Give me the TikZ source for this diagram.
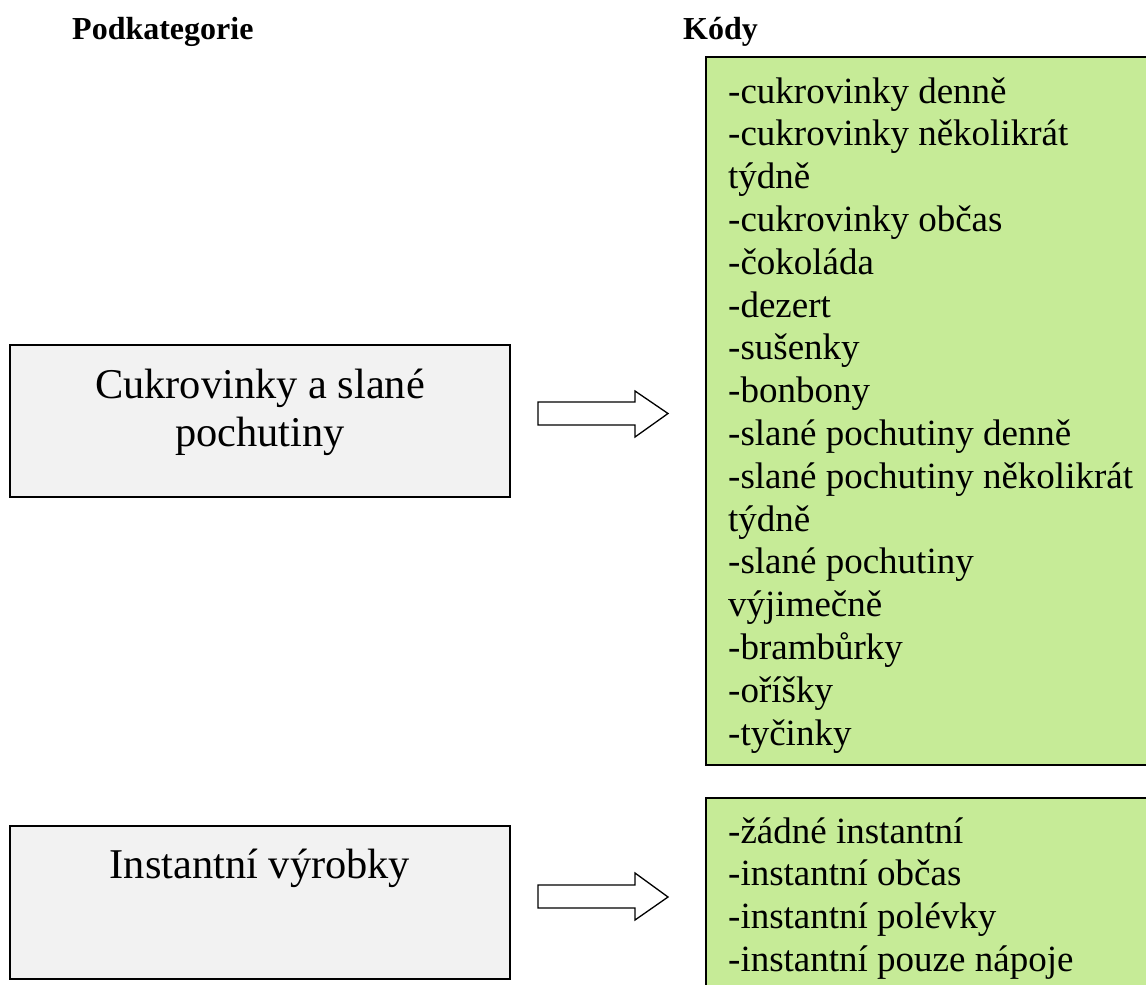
\documentclass[tikz,border=0pt]{standalone}
\usepackage{fontspec}
\setmainfont{Liberation Serif}
\definecolor{boxgreen}{RGB}{198,235,151}
\definecolor{boxgray}{RGB}{242,242,242}
\begin{document}
\begin{tikzpicture}[x=1pt,y=-1pt,
  catbox/.style={draw=black, line width=1.8pt, fill=boxgray, anchor=north west, inner sep=0, outer sep=0},
  codebox/.style={draw=black, line width=1.8pt, fill=boxgreen, anchor=north west, inner sep=0, outer sep=0},
  blockarrow/.style={draw=black, line width=1.3pt, fill=white, line join=miter},
  headtext/.style={font=\fontsize{32}{36}\selectfont\bfseries, anchor=base west, inner sep=0},
  cattext/.style={font=\fontsize{42.4}{48.8}\selectfont, anchor=base, inner sep=0},
  codetext/.style={font=\fontsize{37}{42.8}\selectfont, anchor=base west, inner sep=0}
]
\useasboundingbox (0,0) rectangle (1146,985);
\clip (0,0) rectangle (1146,985);
\fill[white] (0,0) rectangle (1146,985);

% headers
\node[headtext] (hsub) at (72,39) {Podkategorie};
\node[headtext] (hcode) at (683,39) {Kódy};

% category boxes
\node[catbox, minimum width=500pt, minimum height=152pt] (cat1) at (10,345) {};
\node[catbox, minimum width=500pt, minimum height=153pt] (cat2) at (10,826) {};
\node[cattext] (cat1t) at (260,398) {\begin{tabular}[t]{@{}c@{}}Cukrovinky a slané\\pochutiny\end{tabular}};
\node[cattext] (cat2t) at (260,878) {Instantní výrobky};

% code boxes
\node[codebox, minimum width=470pt, minimum height=708pt] (code1) at (706,57) {};
\node[codebox, minimum width=470pt, minimum height=220pt] (code2) at (706,798) {};

\node[codetext] (code1t) at (728,103) {\begin{tabular}[t]{@{}l@{}}
-cukrovinky denně\\
-cukrovinky několikrát\\
týdně\\
-cukrovinky občas\\
-čokoláda\\
-dezert\\
-sušenky\\
-bonbony\\
-slané pochutiny denně\\
-slané pochutiny několikrát\\
týdně\\
-slané pochutiny\\
výjimečně\\
-brambůrky\\
-oříšky\\
-tyčinky
\end{tabular}};

\node[codetext] (code2t) at (728,843) {\begin{tabular}[t]{@{}l@{}}
-žádné instantní\\
-instantní občas\\
-instantní polévky\\
-instantní pouze nápoje
\end{tabular}};

% block arrows
\draw[blockarrow] (538,402) -- (635,402) -- (635,391) -- (668,413.5) -- (635,437) -- (635,425) -- (538,425) -- cycle;
\draw[blockarrow] (538,885) -- (635,885) -- (635,873) -- (668,897) -- (635,920) -- (635,908) -- (538,908) -- cycle;
\end{tikzpicture}
\end{document}
